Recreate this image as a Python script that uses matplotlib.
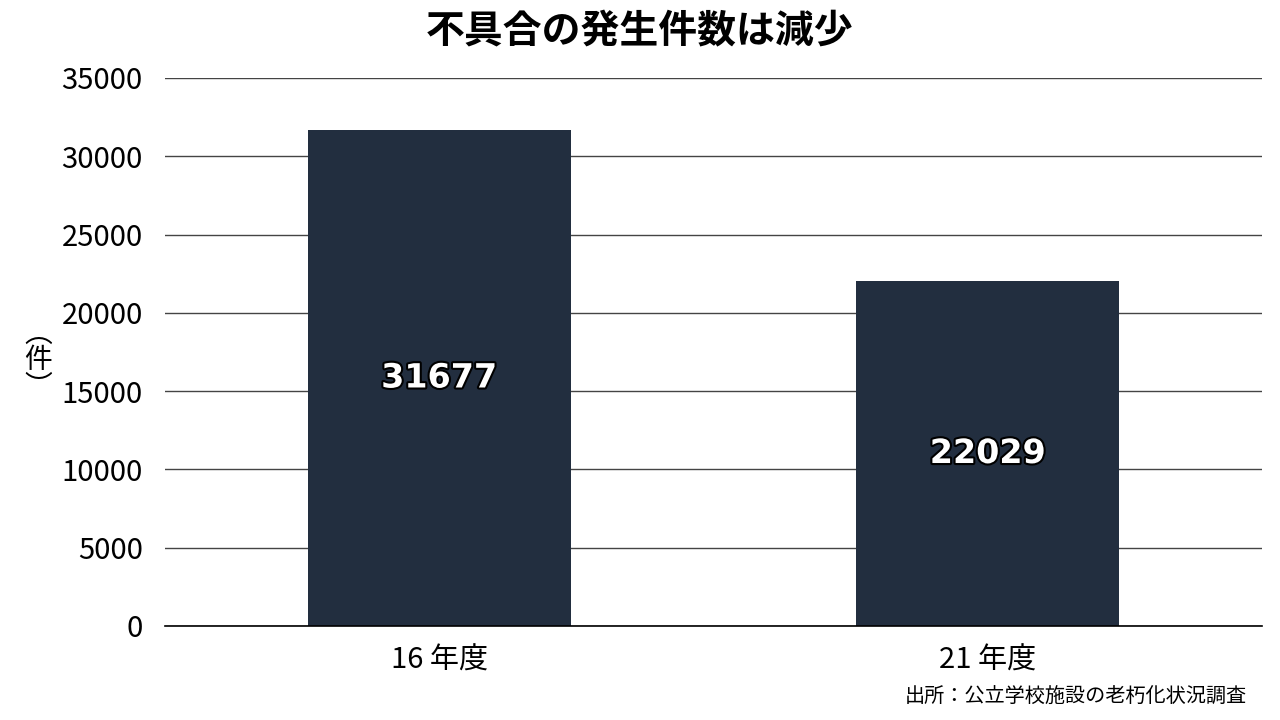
import matplotlib
matplotlib.use("Agg")
from matplotlib import pyplot as plt
import matplotlib.patheffects as pe

plt.rcParams['font.family'] = ['Noto Sans CJK JP', 'DejaVu Sans']

categories = ["16 年度", "21 年度"]
counts = [31677, 22029]
y_ticks = [0, 5000, 10000, 15000, 20000, 25000, 30000, 35000]

bar_color = "#222e3f"

fig = plt.figure(figsize=(12.8, 7.2), dpi=100)
ax = fig.add_axes([0.1289, 0.1306, 0.857, 0.7611])

x = list(range(len(categories)))
bars = ax.bar(x, counts, width=0.48, color=bar_color, zorder=3)

# label sits in the middle of each bar
for b, v in zip(bars, counts):
    ax.text(b.get_x() + b.get_width() / 2, v / 2, str(v),
            ha="center", va="center", fontsize=24, fontweight="bold",
            family=["DejaVu Sans"], color="white", zorder=4,
            path_effects=[pe.withStroke(linewidth=3, foreground="black")])

ax.set_xlim(-0.5, 1.5)
ax.set_ylim(0, 35000)
ax.set_yticks(y_ticks)
ax.set_yticklabels([str(t) for t in y_ticks], fontsize=21)
ax.set_xticks(x)
ax.set_xticklabels(categories, fontsize=21)
ax.tick_params(axis="both", length=0)
ax.tick_params(axis="y", pad=16)
ax.tick_params(axis="x", pad=14)

ax.grid(axis="y", color="#444444", linewidth=1, zorder=1)
for s in ["top", "right", "left"]:
    ax.spines[s].set_visible(False)
ax.spines["bottom"].set_color("black")
ax.spines["bottom"].set_linewidth(1.2)
ax.spines["bottom"].set_zorder(5)

fig.text(0.5, 0.955, "不具合の発生件数は減少", ha="center", va="center",
         fontsize=28, fontweight="bold")
fig.text(0.03, 0.5, "︵\n件\n︶", ha="center", va="center", fontsize=20,
         linespacing=0.85)
fig.text(0.974, 0.032, "出所：公立学校施設の老朽化状況調査", ha="right", va="center",
         fontsize=14.5)

fig.savefig("out.png", dpi=100)
